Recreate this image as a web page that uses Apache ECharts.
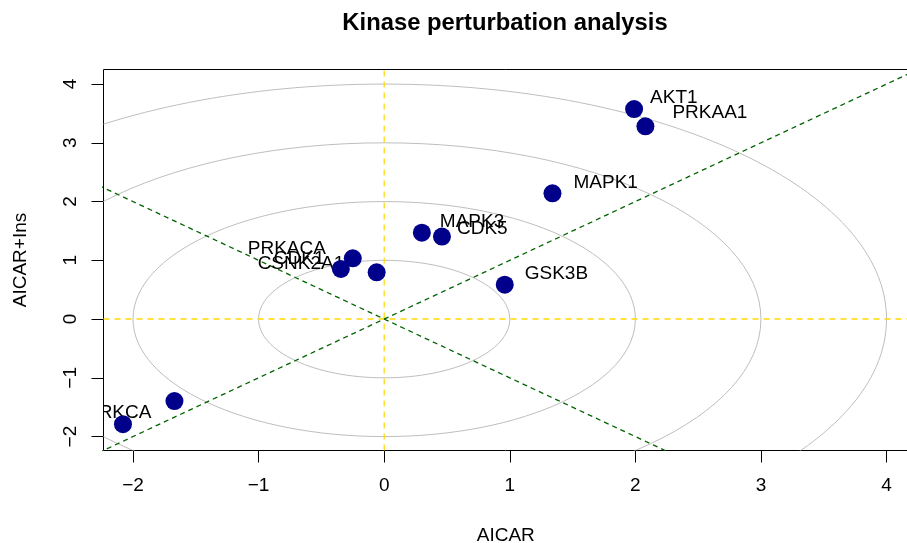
<!DOCTYPE html>
<html>
<head>
<meta charset="utf-8">
<script src="https://cdn.jsdelivr.net/npm/echarts@6/dist/echarts.min.js"></script>
<style>
html,body{margin:0;padding:0;background:#fff;}
#chart{width:907px;height:543px;}
</style>
</head>
<body>
<div id="chart"></div>
<script>
// ---- data ----
const kinases  = ['AKT1', 'PRKAA1', 'MAPK1', 'MAPK3', 'CDK5', 'GSK3B', 'PRKACA', 'CDK1', 'CSNK2A1', '', 'PRKCA'];
const aicar    = [1.99, 2.08, 1.34, 0.30, 0.46, 0.96, -0.25, -0.345, -0.06, -1.67, -2.08];
const aicarIns = [3.575, 3.28, 2.14, 1.47, 1.405, 0.586, 1.034, 0.854, 0.795, -1.396, -1.79];
const circleRadii = [1, 2, 3, 4];
const xTicks = [-2, -1, 0, 1, 2, 3, 4];
const yTicks = [-2, -1, 0, 1, 2, 3, 4];
const xRange = [-2.235, 4.171];
const yRange = [-2.237, 4.248];

// ---- label placement (pixel offsets of text start from point) ----
const labelOffsets = {
  'AKT1': [16, -11], 'PRKAA1': [27, -14], 'MAPK1': [21, -11], 'MAPK3': [18, -11],
  'CDK5': [15, -8], 'GSK3B': [20, -11], 'PRKACA': [-105, -10], 'CDK1': [-67, -10],
  'CSNK2A1': [-119, -9], 'PRKCA': [-37, -11.6]
};

const FONT = '"Liberation Sans", Arial, Helvetica, sans-serif';
const fmt = v => (v < 0 ? '\u2212' + (-v) : String(v));

const points = aicar.map((x, i) => [x, aicarIns[i]]);

function clipRect(params) {
  const cs = params.coordSys;
  return { type: 'rect', shape: { x: cs.x, y: cs.y, width: cs.width, height: cs.height } };
}

const chart = echarts.init(document.getElementById('chart'), null, { renderer: 'canvas' });
chart.setOption({
  animation: false,
  backgroundColor: '#fff',
  title: {
    text: 'Kinase perturbation analysis',
    left: 505, top: 11, textAlign: 'center', padding: 0,
    textStyle: { fontFamily: FONT, fontSize: 23.8, fontWeight: 'bold', color: '#000' }
  },
  grid: {
    left: 103.5, top: 69.5, right: -1, bottom: 92.5,
    containLabel: false, outerBoundsMode: 'none',
    show: true, borderColor: '#000', borderWidth: 1, backgroundColor: 'transparent'
  },
  xAxis: {
    type: 'value', min: xRange[0], max: xRange[1],
    name: 'AICAR', nameLocation: 'middle', nameGap: 76,
    nameTextStyle: { fontFamily: FONT, fontSize: 19, color: '#000' },
    axisLine: { show: false, onZero: false },
    splitLine: { show: false },
    axisTick: { show: true, inside: false, length: 12, lineStyle: { color: '#000' }, customValues: xTicks },
    axisLabel: { customValues: xTicks, formatter: fmt, margin: 26, fontFamily: FONT, fontSize: 19, color: '#000' }
  },
  yAxis: {
    type: 'value', min: yRange[0], max: yRange[1],
    name: 'AICAR+Ins', nameLocation: 'middle', nameGap: 73,
    nameTextStyle: { fontFamily: FONT, fontSize: 19, color: '#000' },
    axisLine: { show: false, onZero: false },
    splitLine: { show: false },
    axisTick: { show: true, inside: false, length: 12, lineStyle: { color: '#000' }, customValues: yTicks },
    axisLabel: { customValues: yTicks, formatter: fmt, rotate: 90, margin: 23, fontFamily: FONT, fontSize: 19, color: '#000' }
  },
  series: [
    {
      type: 'custom', z: 1,
      data: circleRadii.map(r => [0, 0, r]),
      encode: { x: 0, y: 1 },
      renderItem: (params, api) => {
        const c = api.coord([0, 0]);
        const r = api.value(2);
        const s = api.size([r, r]);
        return {
          type: 'ellipse',
          shape: { cx: c[0], cy: c[1], rx: s[0], ry: s[1] },
          style: { fill: 'none', stroke: '#BEBEBE', lineWidth: 1 },
          clipPath: clipRect(params)
        };
      }
    },
    {
      type: 'line', z: 2, symbol: 'none', silent: true,
      data: [[0, yRange[0]], [0, yRange[1]]],
      lineStyle: { color: '#FFD700', width: 1.2, type: [6, 5] }
    },
    {
      type: 'line', z: 2, symbol: 'none', silent: true,
      data: [[xRange[0], 0], [xRange[1], 0]],
      lineStyle: { color: '#FFD700', width: 1.5, type: [6, 5] }
    },
    {
      type: 'line', z: 3, symbol: 'none', silent: true,
      data: [[-5, -5], [5, 5]],
      lineStyle: { color: '#006400', width: 1.3, type: [5, 4] }
    },
    {
      type: 'line', z: 3, symbol: 'none', silent: true,
      data: [[-5, 5], [5, -5]],
      lineStyle: { color: '#006400', width: 1.3, type: [5, 4] }
    },
    {
      type: 'custom', z: 4,
      data: points,
      encode: { x: 0, y: 1 },
      renderItem: (params, api) => {
        const name = kinases[params.dataIndex];
        if (!name) return null;
        const p = api.coord([api.value(0), api.value(1)]);
        const off = labelOffsets[name] || [18, -11];
        return {
          type: 'group',
          clipPath: clipRect(params),
          children: [{
            type: 'text',
            x: p[0] + off[0], y: p[1] + off[1],
            style: {
              text: name, fill: '#000',
              font: '19px ' + FONT,
              textAlign: 'left', textVerticalAlign: 'middle',
              align: 'left', verticalAlign: 'middle'
            }
          }]
        };
      }
    },
    {
      type: 'scatter', z: 5,
      data: points,
      symbol: 'circle', symbolSize: 18,
      itemStyle: { color: '#00008B', opacity: 1 }
    }
  ]
});
</script>
</body>
</html>
